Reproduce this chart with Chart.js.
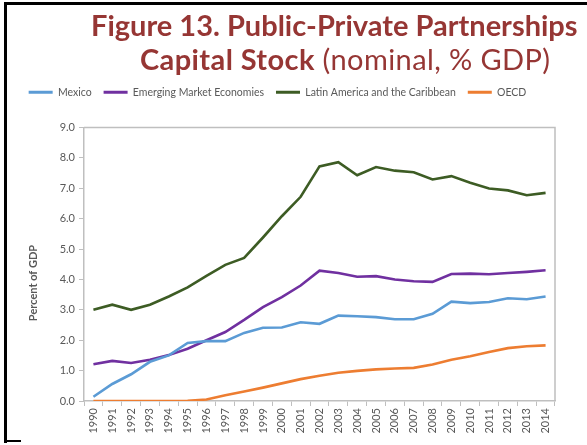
<!DOCTYPE html>
<html>
<head>
<meta charset="utf-8">
<script src="https://cdn.jsdelivr.net/npm/chart.js@4"></script>
<style>
body{margin:0;background:#fff;font-family:Lato,sans-serif}
#wrap{position:relative;width:587px;height:445px;overflow:hidden}
#chart{position:absolute;left:0;top:0}
.t{position:absolute;color:#963634;font-size:29px;line-height:29px;white-space:nowrap}
#t1{left:91px;top:10px;font-weight:bold}
#t2{left:140px;top:44px;letter-spacing:0.4px}
#t2 b{font-weight:bold}
#frame{position:absolute;left:4px;top:2px;width:600px;height:438px;border-top:3px solid #000;border-left:3px solid #000}
#foot{position:absolute;left:4px;top:440px;width:17px;border-top:2px solid #000}
</style>
</head>
<body>
<div id="wrap">
<canvas id="chart" width="587" height="445"></canvas>
<div id="frame"></div>
<div id="foot"></div>
<div class="t" id="t1">Figure 13. Public-Private Partnerships</div>
<div class="t" id="t2"><b>Capital Stock</b> (nominal, % GDP)</div>
</div>
<script>

const years = ["1990","1991","1992","1993","1994","1995","1996","1997","1998","1999","2000","2001","2002","2003","2004","2005","2006","2007","2008","2009","2010","2011","2012","2013","2014"]

const mexico = [0.14,0.56,0.88,1.29,1.50,1.91,1.97,1.97,2.24,2.41,2.42,2.59,2.54,2.81,2.79,2.76,2.69,2.69,2.87,3.27,3.22,3.26,3.38,3.35,3.44]
const emerging = [1.21,1.32,1.25,1.36,1.51,1.72,2.00,2.27,2.67,3.09,3.42,3.80,4.29,4.21,4.09,4.11,4.00,3.94,3.92,4.18,4.19,4.17,4.21,4.25,4.30]
const latam = [3.00,3.17,3.00,3.17,3.44,3.74,4.12,4.48,4.71,5.38,6.08,6.72,7.72,7.86,7.43,7.70,7.58,7.53,7.29,7.40,7.18,6.99,6.93,6.77,6.85]
const oecd = [0.00,0.00,0.00,0.00,0.00,0.01,0.05,0.19,0.31,0.44,0.58,0.72,0.83,0.93,0.99,1.04,1.07,1.09,1.20,1.36,1.47,1.61,1.74,1.80,1.83]

const yTicks = [0,1,2,3,4,5,6,7,8,9]
const yTitle = "Percent of GDP"

function line(label, data, color){
return {
label:label,
data:data,
borderColor:color,
backgroundColor:color,
borderWidth:2.6,
pointRadius:0,
tension:0
}
}

// extra room under the legend
const legendGap = {
id:"legendGap",
beforeInit(chart){
const fit = chart.legend.fit
chart.legend.fit = function(){
fit.bind(chart.legend)()
this.height += 20
}
}
}

// plot frame on top and right side, axis title
const frameBox = {
id:"frameBox",
beforeDatasetsDraw(chart){
const a = chart.chartArea
const c = chart.ctx
c.save()
c.strokeStyle = "#bfbfbf"
c.lineWidth = 1.5
c.beginPath()
c.moveTo(a.left, a.top)
c.lineTo(a.right, a.top)
c.lineTo(a.right, a.bottom)
c.stroke()
c.translate(33, 283)
c.rotate(-Math.PI/2)
c.fillStyle = "#595959"
c.font = "bold 11px Lato"
c.textAlign = "center"
c.textBaseline = "middle"
c.fillText(yTitle, 0, 0)
c.restore()
}
}

const ctx = document.getElementById("chart")

new Chart(ctx, {
type:"line",
data:{
labels:years,
datasets:[
line("Mexico", mexico, "#5b9bd5"),
line("Emerging Market Economies", emerging, "#7030a0"),
line("Latin America and the Caribbean", latam, "#3d5c24"),
line("OECD", oecd, "#ed7d31")
]
},
options:{
responsive:false,
animation:false,
layout:{padding:{top:75,left:0,right:32,bottom:0}},
plugins:{
legend:{
display:true,
labels:{
boxWidth:24,
boxHeight:3,
padding:12,
color:"#595959",
font:{family:"Lato",size:10.5},
generateLabels(chart){
return Chart.defaults.plugins.legend.labels.generateLabels(chart).map(l => ({...l, lineWidth:0}))
}
}
},
tooltip:{enabled:false}
},
scales:{
x:{
offset:true,
afterFit(scale){ scale.height = 44 },
grid:{drawOnChartArea:false, offset:true, tickLength:5, color:"#bfbfbf"},
border:{color:"#bfbfbf", width:1.5},
ticks:{color:"#595959", font:{family:"Lato",size:11}, maxRotation:90, minRotation:90, autoSkip:false, padding:2}
},
y:{
min:0,
max:9,
afterFit(scale){ scale.width = 84 },
afterBuildTicks(scale){ scale.ticks = yTicks.map(v => ({value:v})) },
grid:{drawOnChartArea:false, tickLength:5, color:"#bfbfbf"},
border:{color:"#bfbfbf", width:1.5},
ticks:{color:"#595959", font:{family:"Lato",size:11}, padding:4, callback:v => v.toFixed(1)}
}
}
},
plugins:[frameBox, legendGap]
})

</script>
</body>
</html>
